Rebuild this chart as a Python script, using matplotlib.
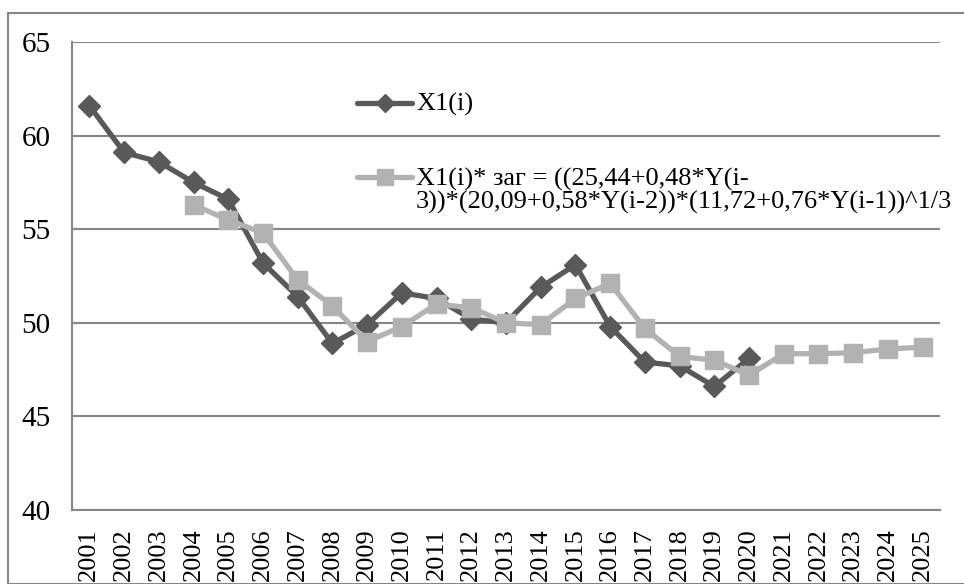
import matplotlib
matplotlib.use("Agg")
import matplotlib.pyplot as plt
from matplotlib.lines import Line2D
from matplotlib.patches import Rectangle

years = [str(y) for y in range(2001, 2026)]
x1_actual = [61.6, 59.1, 58.6, 57.5, 56.6, 53.2, 51.4, 48.9, 49.9, 51.6,
             51.3, 50.2, 50.0, 51.9, 53.1, 49.8, 47.9, 47.7, 46.6, 48.1]
x1_calc = [None, None, None, 56.3, 55.5, 54.8, 52.3, 50.9, 49.0, 49.8,
           51.0, 50.8, 50.0, 49.9, 51.3, 52.1, 49.7, 48.2, 48.0, 47.2,
           48.35, 48.35, 48.4, 48.6, 48.7]
label1 = "X1(i)"
label2 = "X1(i)* заг = ((25,44+0,48*Y(i-\n3))*(20,09+0,58*Y(i-2))*(11,72+0,76*Y(i-1))^1/3"
yticks = [40, 45, 50, 55, 60, 65]

plt.rcParams['font.family'] = ['Liberation Serif', 'DejaVu Serif']

W, H = 964, 584
fig = plt.figure(figsize=(W / 100, H / 100), dpi=100)
ax = fig.add_axes([72 / W, (H - 510) / H, (940 - 72) / W, (510 - 42) / H])

dark = '#595959'
light = '#b2b2b2'
grid = '#868686'

xs = list(range(len(years)))
ax.plot(xs[:len(x1_actual)], x1_actual, color=dark, lw=3.8, marker='D',
        ms=11, mfc=dark, mec=dark, zorder=3, solid_joinstyle='round')
cx = [i for i, v in enumerate(x1_calc) if v is not None]
cy = [v for v in x1_calc if v is not None]
ax.plot(cx, cy, color=light, lw=3.8, marker='s', ms=13, mfc=light, mec=light,
        zorder=4, solid_joinstyle='round')

ax.set_xlim(-0.5, len(years) - 0.5)
ax.set_ylim(40, 65)
ax.set_yticks(yticks)
ax.set_yticklabels([str(t) for t in yticks], fontsize=21)
ax.set_xticks(xs)
ax.set_xticklabels(years, rotation=90, fontsize=19)
ax.tick_params(axis='y', length=0, pad=15.5)
ax.tick_params(axis='x', length=0, pad=13)
ax.grid(axis='y', color=grid, lw=1.5)
ax.set_axisbelow(True)
for s in ['top', 'right']:
    ax.spines[s].set_visible(False)
for s in ['left', 'bottom']:
    ax.spines[s].set_color(grid)
    ax.spines[s].set_linewidth(1.5)

# legend (drawn manually in figure pixel coordinates)
def fx(px):
    return px / W

def fy(py):
    return (H - py) / H

fig.add_artist(Line2D([fx(357), fx(412)], [fy(103), fy(103)], color=dark, lw=3.8,
                      solid_capstyle='round'))
fig.add_artist(Line2D([fx(384.5)], [fy(103)], marker='D', ms=9, color=dark))
fig.text(fx(416), fy(104), label1, fontsize=19, va='center', ha='left')

fig.add_artist(Line2D([fx(357), fx(412)], [fy(177), fy(177)], color=light, lw=3.8,
                      solid_capstyle='round'))
fig.add_artist(Line2D([fx(384.5)], [fy(177)], marker='s', ms=11, color=light))
fig.text(fx(416), fy(168), label2, fontsize=19, va='top', ha='left', linespacing=1.0)

# outer chart border
fig.add_artist(Rectangle((fx(8), 0), 1.5, fy(13), transform=fig.transFigure,
                         fill=False, ec=grid, lw=1.5))

fig.savefig('out.png', dpi=100)
